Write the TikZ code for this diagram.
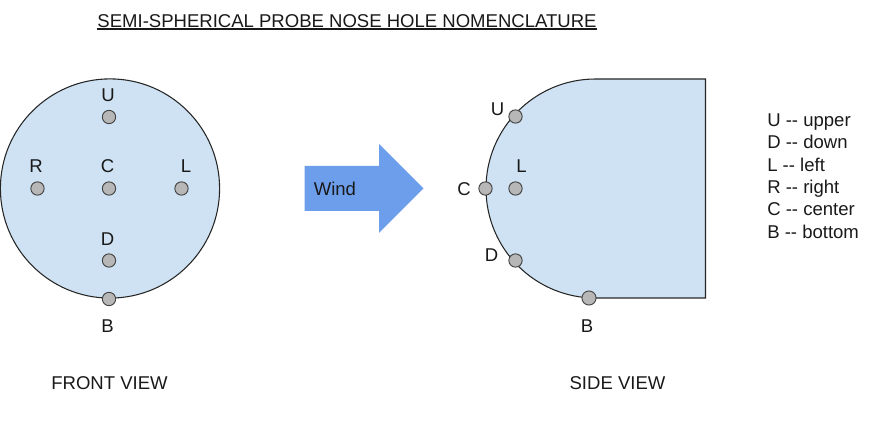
\documentclass[tikz,border=0pt]{standalone}
\usepackage{fontspec}
\setmainfont{Liberation Sans}
\definecolor{bodyblue}{HTML}{CFE2F3}
\definecolor{windblue}{HTML}{6D9EEB}
\definecolor{holegray}{HTML}{B7B7B7}
\definecolor{edgegray}{HTML}{434343}
\newcommand\ulbar[1]{\setbox0\hbox{#1}\rlap{\rule[-1.2pt]{\wd0}{0.85pt}}\box0}
\tikzset{
  body/.style={draw=black!85,line width=0.8pt,fill=bodyblue},
  hole/.style={circle,draw=edgegray,line width=0.7pt,fill=holegray,minimum size=10pt,inner sep=0pt},
  lbl/.style={inner sep=0pt,anchor=base,yshift=-0.75pt,font=\fontsize{13.9}{16}\selectfont,text=black!90},
  key/.style={lbl,anchor=base west},
}
\begin{document}
\begin{tikzpicture}[x=0.75pt,y=-0.75pt]
\useasboundingbox (0,0) rectangle (879,423);
\node[lbl] (title) at (347,27) {\ulbar{SEMI-SPHERICAL PROBE NOSE HOLE NOMENCLATURE}};
% front view
\node[circle,body,minimum size=164.4pt,inner sep=0pt] (front) at (110,188.5) {};
\node[hole] (fU) at (109,117) {};
\node[hole] (fC) at (109,188.5) {};
\node[hole] (fR) at (37.5,188.5) {};
\node[hole] (fL) at (181.5,188.5) {};
\node[hole] (fD) at (109,260.5) {};
\node[hole] (fB) at (109,299) {};
\node[lbl] (tfU) at (108,101) {U};
\node[lbl] (tfR) at (36,172) {R};
\node[lbl] (tfC) at (107.5,172) {C};
\node[lbl] (tfL) at (186,172) {L};
\node[lbl] (tfD) at (107.5,244.5) {D};
\node[lbl] (tfB) at (107.5,332) {B};
\node[lbl] (tfront) at (109.5,388.5) {FRONT VIEW};
% wind arrow
\fill[windblue] (304.5,166) -- (379,166) -- (379,144) -- (423.5,188.5) -- (379,233) -- (379,211) -- (304.5,211) -- cycle;
\node[key] (wind) at (313.5,195) {Wind};
% side view
\draw[body] (595.5,79) -- (705.5,79) -- (705.5,298) -- (595.5,298)
  arc[start angle=270,end angle=90,radius=82.125pt] -- cycle;
\node[hole] (sU) at (515.5,116.5) {};
\node[hole] (sC) at (485.5,188.5) {};
\node[hole] (sL) at (515.5,188.5) {};
\node[hole] (sD) at (515.5,260.5) {};
\node[hole,minimum size=10.6pt] (sB) at (589,298) {};
\node[lbl] (tsU) at (497.5,115) {U};
\node[lbl] (tsC) at (464,194.5) {C};
\node[lbl] (tsL) at (521.5,172) {L};
\node[lbl] (tsD) at (491.5,261) {D};
\node[lbl] (tsB) at (587,332) {B};
\node[lbl] (tside) at (617.5,388.5) {SIDE VIEW};
% legend
\node[key] (k1) at (767,126) {U {-}{-} upper};
\node[key] (k2) at (767,148) {D {-}{-} down};
\node[key] (k3) at (767,170.5) {L {-}{-} left};
\node[key] (k4) at (767,193) {R {-}{-} right};
\node[key] (k5) at (767,215) {C {-}{-} center};
\node[key] (k6) at (767,237.5) {B {-}{-} bottom};
\end{tikzpicture}
\end{document}
